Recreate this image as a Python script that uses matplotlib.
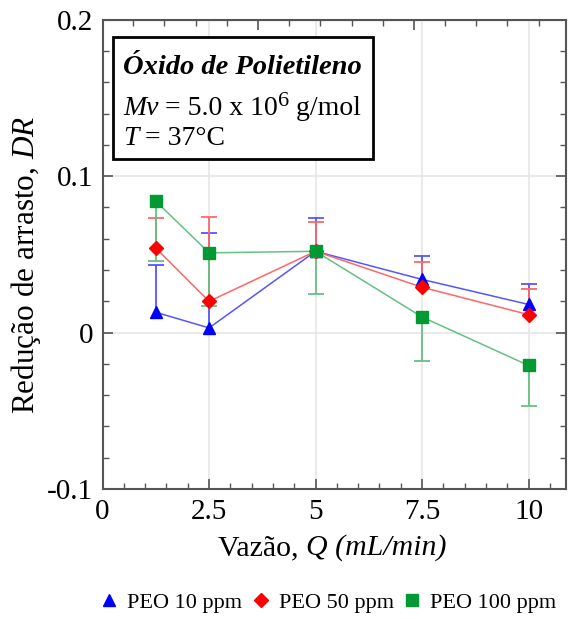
import numpy as np
import matplotlib
matplotlib.use("Agg")
import matplotlib.pyplot as plt
from matplotlib.patches import Rectangle
from matplotlib.ticker import MultipleLocator, FixedLocator, FuncFormatter

plt.rcParams['font.family'] = ['Liberation Serif', 'DejaVu Serif']
plt.rcParams['mathtext.fontset'] = 'custom'
plt.rcParams['mathtext.rm'] = 'Liberation Serif'
plt.rcParams['mathtext.it'] = 'Liberation Serif:italic'
plt.rcParams['mathtext.bf'] = 'Liberation Serif:bold'

# vazao (mL/min)
Q = [1.25, 2.5, 5.0, 7.5, 10.0]

# reducao de arrasto para cada concentracao
dr_10 = [0.013, 0.003, 0.052, 0.034, 0.018]
dr_50 = [0.054, 0.020, 0.052, 0.029, 0.0115]
dr_100 = [0.084, 0.051, 0.052, 0.010, -0.021]

# barras de erro (so um lado aparece)
err_10_up = [0.030, 0.061, 0.021, 0.015, 0.013]
err_50_up = [0.019, 0.054, 0.019, 0.016, 0.0165]
err_100_low = [0.038, 0.034, 0.027, 0.028, 0.026]

labels = ['PEO 10 ppm', 'PEO 50 ppm', 'PEO 100 ppm']

fig = plt.figure(figsize=(5.7, 6.19), dpi=100)
ax = fig.add_axes([0.18, 0.21, 0.813, 0.758])

series = [
    (dr_10, err_10_up, 1, '^', '#0000ff', '#5555ff', 8.5),
    (dr_50, err_50_up, 1, 'D', '#ff0000', '#ff6666', 7),
    (dr_100, err_100_low, -1, 's', '#009933', '#66c083', 8),
]
handles = []
for (y, err, sign, mk, mcol, lcol, ms), lab in zip(series, labels):
    ends = [v + sign * e for v, e in zip(y, err)]
    ax.vlines(Q, y, ends, colors=lcol, lw=1.3, zorder=2)
    ax.plot(Q, ends, '_', color=lcol, ms=12, mew=1.3, ls='none', zorder=2)
    ax.plot(Q, y, '-', color=lcol, lw=1.1, zorder=3)
    h, = ax.plot(Q, y, mk, color=mcol, ms=ms, mec=mcol, ls='none', zorder=4, label=lab)
    handles.append(h)

ax.set_xlim(0, 10.88)
ax.set_ylim(-0.1, 0.2)
ax.xaxis.set_major_locator(FixedLocator([0, 2.5, 5, 7.5, 10]))
ax.xaxis.set_minor_locator(MultipleLocator(0.5))
ax.yaxis.set_major_locator(MultipleLocator(0.1))
ax.yaxis.set_minor_locator(MultipleLocator(0.02))
ax.xaxis.set_major_formatter(FuncFormatter(lambda v, p: f"{v:g}"))
ax.yaxis.set_major_formatter(FuncFormatter(lambda v, p: "0" if abs(v) < 1e-9 else f"{v:.1f}"))

ax.tick_params(which='both', direction='in', top=False, right=True, labelsize=21,
               color='#555555')
ax.tick_params(which='major', length=7, width=1.2, pad=7)
ax.tick_params(which='minor', length=4, width=1)

# ticks de cima
sec = ax.secondary_xaxis('top')
top_ticks = np.arange(1, 15) * 0.732 - 0.012
sec.xaxis.set_major_locator(FixedLocator(top_ticks[[4, 9]]))
sec.xaxis.set_minor_locator(FixedLocator(top_ticks))
sec.tick_params(which='both', direction='in', labeltop=False, color='#555555')
sec.tick_params(which='major', length=7, width=1.2)
sec.tick_params(which='minor', length=4, width=1)
sec.spines['top'].set_color('#555555')

for s in ax.spines.values():
    s.set_color('#555555')
    s.set_linewidth(1.5)

ax.grid(True, which='major', color='#e6e6e6', lw=1.2)
ax.set_axisbelow(True)

# rotulo do eixo x: parte em italico
t_x = ax.text(0.249, -0.098, 'Vazão, ', transform=ax.transAxes, fontsize=21.5, va='top')
ax.annotate('Q (mL/min)', xy=(1, 0), xycoords=t_x, fontsize=21.5,
            fontstyle='italic', va='bottom')
ax.set_ylabel('Redução de arrasto, $DR$', fontsize=22.5)
ax.yaxis.set_label_coords(-0.128, 0.478)

# caixa com informacoes do polimero
ax.add_patch(Rectangle((0.0227, 0.7036), 0.561, 0.2602, transform=ax.transAxes,
                       fill=True, facecolor='white', edgecolor='black', lw=2, zorder=5))
ax.text(0.044, 0.885, 'Óxido de Polietileno', transform=ax.transAxes,
        fontsize=20.5, fontweight='bold', fontstyle='italic', va='baseline', zorder=6)

t_mv = ax.text(0.044, 0.797, 'Mv', transform=ax.transAxes, fontsize=20,
               fontstyle='italic', va='baseline', zorder=6)
t_val = ax.annotate(' = 5.0 x 10', xy=(1, 0), xycoords=t_mv, fontsize=20,
                    va='bottom', zorder=6)
t_exp = ax.annotate('6', xy=(1, 0.42), xycoords=t_val, fontsize=16,
                    va='bottom', zorder=6)
ax.annotate(' g/mol', xy=(1, 0), xycoords=(t_exp, t_val), fontsize=20,
            va='bottom', zorder=6)

t_t = ax.text(0.044, 0.733, 'T', transform=ax.transAxes, fontsize=20,
              fontstyle='italic', va='baseline', zorder=6)
ax.annotate(' = 37°C', xy=(1, 0), xycoords=t_t, fontsize=20, va='bottom', zorder=6)

fig.legend(handles=handles, loc='center', bbox_to_anchor=(0.575, 0.026), ncol=3,
           frameon=False, fontsize=16, handletextpad=0.35, columnspacing=0.4,
           handlelength=0.9, markerscale=1.05)

fig.savefig('out.png', dpi=100)
